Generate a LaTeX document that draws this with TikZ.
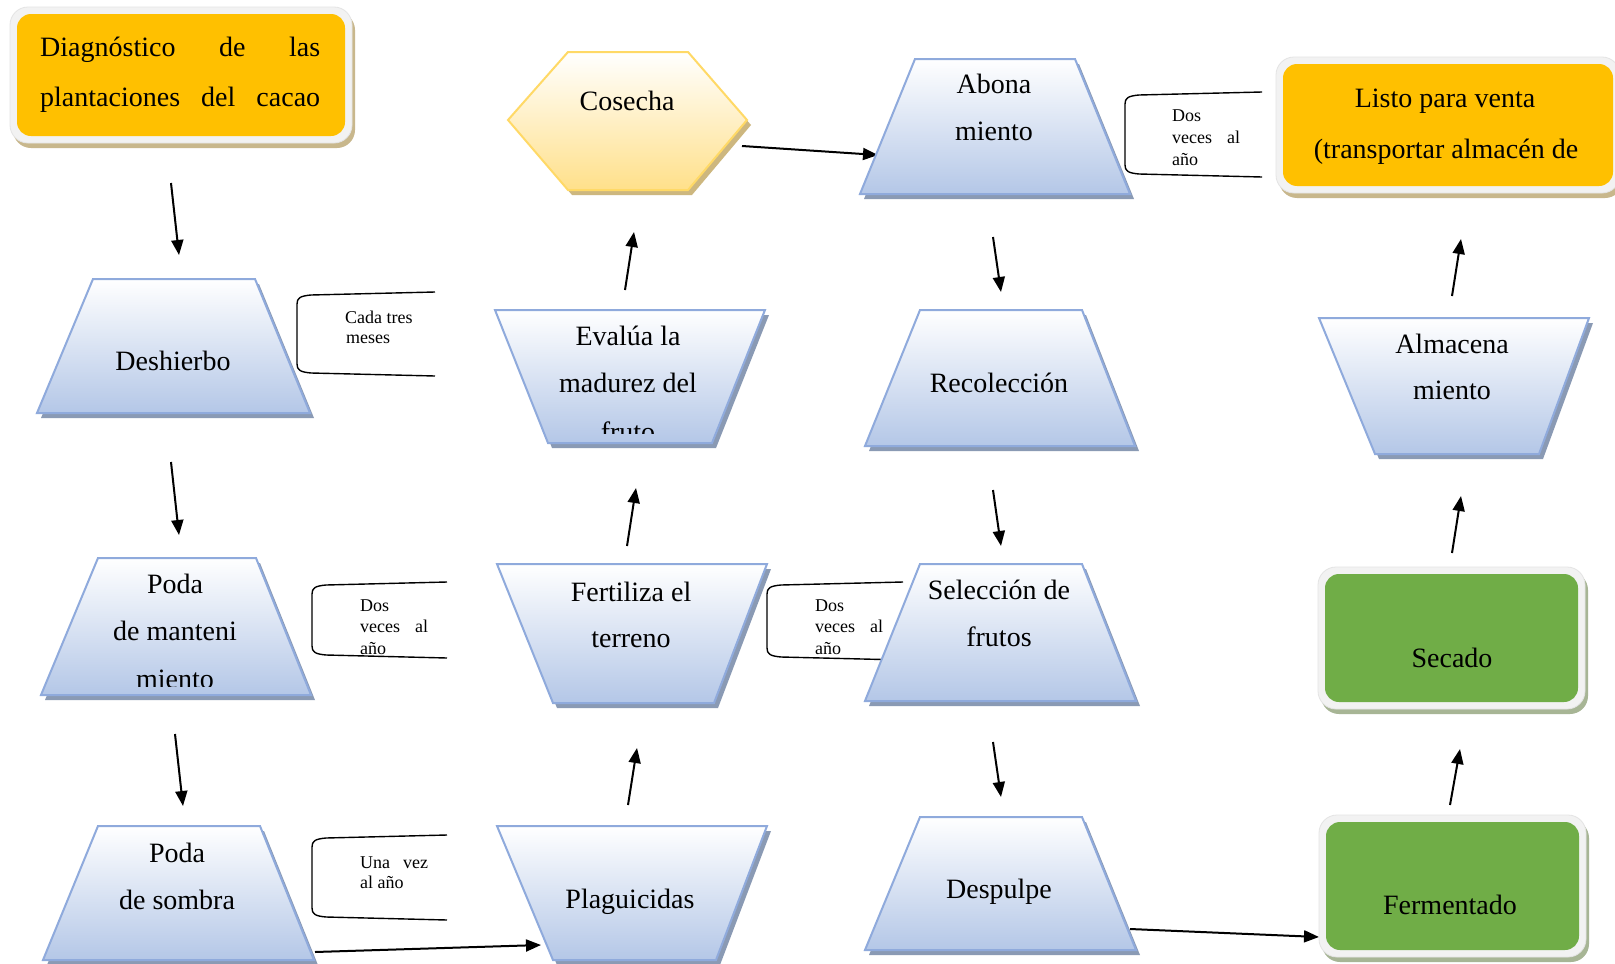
\documentclass[tikz,border=0pt]{standalone}
\usepackage{fontspec}
\setmainfont{Liberation Serif}
\usetikzlibrary{arrows.meta}
\definecolor{orangebox}{HTML}{FFC000}
\definecolor{greenbox}{HTML}{70AD47}
\definecolor{trapline}{HTML}{8FAADC}
\definecolor{trapfill}{HTML}{B4C7E7}
\definecolor{trapshadow}{HTML}{8A9AB4}
\definecolor{framecol}{HTML}{F2F2F2}
\definecolor{frameedge}{HTML}{E4E4E4}
\definecolor{tanshadow}{HTML}{C8B78C}
\definecolor{greenshadow}{HTML}{A7B595}
\definecolor{hexline}{HTML}{FFD966}
\definecolor{hexfill}{HTML}{FFE08A}
\definecolor{hexshadow}{HTML}{CDB77F}
% trapezoid: top-left x, top-right x, top y, bottom-left x, bottom-right x, bottom y
\newcommand{\trapz}[6]{%
  \fill[trapshadow, shift={(4,5)}] (#1,#3) -- (#2,#3) -- (#5,#6) -- (#4,#6) -- cycle;
  \path[draw=trapline, line width=2pt, top color=white, bottom color=trapfill]
    (#1,#3) -- (#2,#3) -- (#5,#6) -- (#4,#6) -- cycle;}
% framed rounded box: inner x1,y1,x2,y2, inner colour, shadow colour
\newcommand{\frbox}[6]{%
  \fill[#6, rounded corners=18pt] (#1-7+3,#2-7+5) rectangle (#3+7+3,#4+7+5);
  \path[fill=framecol, draw=frameedge, line width=0.8pt, rounded corners=18pt] (#1-7,#2-7) rectangle (#3+7,#4+7);
  \fill[#5, rounded corners=14pt] (#1,#2) rectangle (#3,#4);}
% bracket: left x, top y, bottom y, right x
\newcommand{\brak}[4]{%
  \draw[brk] (#4,#2-6) -- (#1+14,#2-3) .. controls (#1+3,#2-2) and (#1,#2) .. (#1,#2+6)
    -- (#1,#3-6) .. controls (#1,#3) and (#1+3,#3+2) .. (#1+14,#3+3) -- (#4,#3+6);}
\begin{document}
\begin{tikzpicture}[x=1pt,y=-1pt,
  txt/.style={font=\fontsize{28}{34}\selectfont, anchor=base, inner sep=0pt},
  note/.style={font=\fontsize{18}{21}\selectfont, anchor=base west, inner sep=0pt},
  arr/.style={line width=2pt, -{Triangle[length=15pt,width=12pt]}},
  brk/.style={line width=1.4pt}]
\useasboundingbox (0,0) rectangle (1615,964);
\clip (0,0) rectangle (1615,964);
\fill[white] (0,0) rectangle (1615,964);

% ---- brackets
\brak{297}{298}{370}{435}
\brak{1125}{98}{171}{1262}
\brak{312}{588}{652}{447}
\brak{767}{588}{654}{903}
\brak{312}{841}{914}{447}

% ---- connector end points
\coordinate (diagout) at (171,183);  \coordinate (deshin) at (179,255);
\coordinate (deshout) at (171,462);  \coordinate (podamin) at (179,535);
\coordinate (podamout) at (175,734); \coordinate (podasin) at (183,806);
\coordinate (podasout) at (315,952); \coordinate (plagin) at (541,945);
\coordinate (plagout) at (628,805);  \coordinate (fertin) at (637,748);
\coordinate (fertout) at (627,546);  \coordinate (evalin) at (636,488);
\coordinate (evalout) at (625,290);  \coordinate (cosin) at (634,232);
\coordinate (cosout) at (742,146);   \coordinate (abonin) at (878,155);
\coordinate (abonout) at (993,237);  \coordinate (recolin) at (1001,292);
\coordinate (recolout) at (993,490); \coordinate (selin) at (1001,546);
\coordinate (selout) at (993,742);   \coordinate (despin) at (1001,797);
\coordinate (despout) at (1130,929); \coordinate (fermin) at (1319,937);
\coordinate (fermout) at (1450,805); \coordinate (secin) at (1460,749);
\coordinate (secout) at (1452,553);  \coordinate (almin) at (1461,496);
\coordinate (almout) at (1452,296);  \coordinate (listoin) at (1461,239);

\draw[arr] (diagout) -- (deshin);
\draw[arr] (deshout) -- (podamin);
\draw[arr] (podamout) -- (podasin);
\draw[arr] (podasout) -- (plagin);
\draw[arr] (plagout) -- (fertin);
\draw[arr] (fertout) -- (evalin);
\draw[arr] (evalout) -- (cosin);
\draw[arr] (cosout) -- (abonin);
\draw[arr] (abonout) -- (recolin);
\draw[arr] (recolout) -- (selin);
\draw[arr] (selout) -- (despin);
\draw[arr] (despout) -- (fermin);
\draw[arr] (fermout) -- (secin);
\draw[arr] (secout) -- (almin);
\draw[arr] (almout) -- (listoin);

% ---- framed boxes
\frbox{17}{14}{345}{136}{orangebox}{tanshadow}
\frbox{1283}{64}{1613}{186}{orangebox}{tanshadow}
\frbox{1325}{574}{1578}{702}{greenbox}{greenshadow}
\frbox{1326}{822}{1579}{950}{greenbox}{greenshadow}

% ---- hexagon
\fill[hexshadow, shift={(4,5)}] (568,52) -- (688,52) -- (747,120) -- (688,190) -- (568,190) -- (508,120) -- cycle;
\path[draw=hexline, line width=2pt, top color=white, bottom color=hexfill]
  (568,52) -- (688,52) -- (747,120) -- (688,190) -- (568,190) -- (508,120) -- cycle;

% ---- trapezoids
\trapz{93}{255}{279}{37}{310}{413}
\trapz{98}{256}{558}{41}{311}{695}
\trapz{98}{260}{826}{43}{314}{960}
\trapz{495}{765}{310}{548}{712}{443}
\trapz{497}{767}{564}{553}{714}{703}
\trapz{497}{767}{826}{553}{716}{960}
\trapz{915}{1075}{59}{860}{1130}{194}
\trapz{920}{1082}{310}{865}{1135}{446}
\trapz{920}{1082}{564}{865}{1136}{701}
\trapz{920}{1082}{817}{865}{1136}{950}
\trapz{1319}{1589}{318}{1375}{1539}{454}

% ---- texts
\node[txt, anchor=base west] (diag1) at (40,56) {\hbox to 280pt{Diagnóstico\hfill de\hfill las}};
\node[txt, anchor=base west] (diag2) at (40,106) {\hbox to 280pt{plantaciones\hfill del\hfill cacao}};
\node[txt] (listo1) at (1445,107) {Listo para venta};
\node[txt] (listo2) at (1446,158) {(transportar almacén de};
\node[txt] (cosecha) at (627,110) {Cosecha};
\node[txt] (desh) at (173,370) {Deshierbo};
\node[txt] (podam1) at (175,593) {Poda};
\node[txt] (podam2) at (175,640) {de manteni};
\begin{scope}
  \clip (0,0) rectangle (1615,686);
  \node[txt] (podam3) at (175,688) {miento};
\end{scope}
\node[txt] (podas1) at (177,862) {Poda};
\node[txt] (podas2) at (177,909) {de sombra};
\node[txt] (eval1) at (628,345) {Evalúa la};
\node[txt] (eval2) at (628,392) {madurez del};
\begin{scope}
  \clip (0,0) rectangle (1615,433);
  \node[txt] (eval3) at (628,441) {fruto};
\end{scope}
\node[txt] (fert1) at (631,601) {Fertiliza el};
\node[txt] (fert2) at (631,647) {terreno};
\node[txt] (plag) at (630,908) {Plaguicidas};
\node[txt] (abon1) at (994,93) {Abona};
\node[txt] (abon2) at (994,140) {miento};
\node[txt] (recol) at (999,392) {Recolección};
\node[txt] (sel1) at (999,599) {Selección de};
\node[txt] (sel2) at (999,646) {frutos};
\node[txt] (desp) at (999,898) {Despulpe};
\node[txt] (alm1) at (1452,353) {Almacena};
\node[txt] (alm2) at (1452,399) {miento};
\node[txt] (secado) at (1452,667) {Secado};
\node[txt] (ferm) at (1450,914) {Fermentado};

% ---- notes
\node[note] (n1a) at (345,323) {Cada tres};
\node[note] (n1b) at (346,343) {meses};
\node[note] (n2a) at (1172,121) {Dos};
\node[note] (n2b) at (1172,143) {\hbox to 68pt{veces\hfill al}};
\node[note] (n2c) at (1172,165) {año};
\node[note] (n3a) at (360,611) {Dos};
\node[note] (n3b) at (360,632.5) {\hbox to 68pt{veces\hfill al}};
\node[note] (n3c) at (360,654) {año};
\node[note] (n4a) at (815,611) {Dos};
\node[note] (n4b) at (815,632.5) {\hbox to 68pt{veces\hfill al}};
\node[note] (n4c) at (815,654) {año};
\node[note] (n5a) at (360,868) {\hbox to 68pt{Una\hfill vez}};
\node[note] (n5b) at (360,888) {al año};
\end{tikzpicture}
\end{document}
